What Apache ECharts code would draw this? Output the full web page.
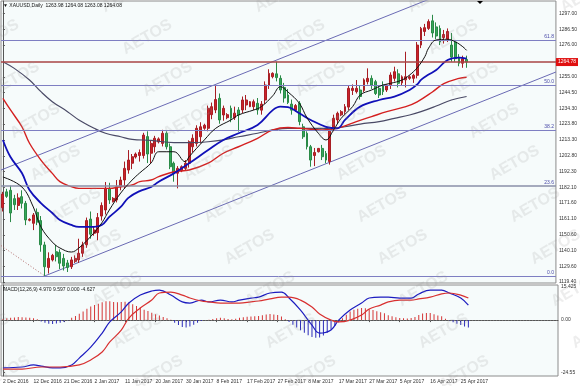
<!DOCTYPE html>
<html><head><meta charset="utf-8">
<script src="https://cdn.jsdelivr.net/npm/echarts@6/dist/echarts.min.js"></script>
<style>html,body{margin:0;padding:0;background:#fff}#c{width:580px;height:386px}</style>
</head><body><div id="c"></div><script>
// ---------- DATA ----------
const dates = ['2 Dec 2016','4 Dec 2016','5 Dec 2016','6 Dec 2016','7 Dec 2016','8 Dec 2016','9 Dec 2016','11 Dec 2016','12 Dec 2016','13 Dec 2016','14 Dec 2016','15 Dec 2016','16 Dec 2016','18 Dec 2016','19 Dec 2016','20 Dec 2016','21 Dec 2016','22 Dec 2016','23 Dec 2016','26 Dec 2016','27 Dec 2016','28 Dec 2016','29 Dec 2016','30 Dec 2016',
'2 Jan 2017','3 Jan 2017','4 Jan 2017','5 Jan 2017','6 Jan 2017','8 Jan 2017','9 Jan 2017','10 Jan 2017','11 Jan 2017','12 Jan 2017','13 Jan 2017','15 Jan 2017','16 Jan 2017','17 Jan 2017','18 Jan 2017','19 Jan 2017','20 Jan 2017','22 Jan 2017','23 Jan 2017','24 Jan 2017','25 Jan 2017','26 Jan 2017','27 Jan 2017','29 Jan 2017','30 Jan 2017','31 Jan 2017',
'1 Feb 2017','2 Feb 2017','3 Feb 2017','5 Feb 2017','6 Feb 2017','7 Feb 2017','8 Feb 2017','9 Feb 2017','10 Feb 2017','12 Feb 2017','13 Feb 2017','14 Feb 2017','15 Feb 2017','16 Feb 2017','17 Feb 2017','19 Feb 2017','20 Feb 2017','21 Feb 2017','22 Feb 2017','23 Feb 2017','24 Feb 2017','26 Feb 2017','27 Feb 2017','28 Feb 2017',
'1 Mar 2017','2 Mar 2017','3 Mar 2017','5 Mar 2017','6 Mar 2017','7 Mar 2017','8 Mar 2017','9 Mar 2017','10 Mar 2017','12 Mar 2017','13 Mar 2017','14 Mar 2017','15 Mar 2017','16 Mar 2017','17 Mar 2017','19 Mar 2017','20 Mar 2017','21 Mar 2017','22 Mar 2017','23 Mar 2017','24 Mar 2017','26 Mar 2017','27 Mar 2017','28 Mar 2017','29 Mar 2017','30 Mar 2017','31 Mar 2017',
'2 Apr 2017','3 Apr 2017','4 Apr 2017','5 Apr 2017','6 Apr 2017','7 Apr 2017','9 Apr 2017','10 Apr 2017','11 Apr 2017','12 Apr 2017','13 Apr 2017','16 Apr 2017','17 Apr 2017','18 Apr 2017','19 Apr 2017','20 Apr 2017','21 Apr 2017','23 Apr 2017','24 Apr 2017','25 Apr 2017','26 Apr 2017','27 Apr 2017'];

// [open, close, low, high]
const ohlc = [
[1168.5,1177.5,1166,1179],[1179,1176,1175,1181],[1180,1165,1159,1183],[1174.5,1170.5,1167,1177],[1170,1175,1167,1178],
[1175.8,1171.4,1168,1180],[1171.4,1160.4,1157,1173],[1160.2,1160.8,1159.5,1161.5],[1158.2,1163.7,1153.7,1165],[1165.4,1159,1157,1168],
[1160,1144,1139.4,1163],[1143.9,1129.5,1123.4,1146],[1129,1135,1125,1139],[1134,1137,1133,1138],[1139.4,1136.1,1133,1144],
[1139,1131.8,1128,1141],[1135,1130,1127,1138],[1132,1129,1126,1134],[1129.5,1134,1128,1136],[1133,1135,1132,1137],
[1134,1138.4,1132,1148],[1138.4,1143.9,1136,1146],[1144,1160,1142,1162],[1161,1151,1148,1166],[1151.6,1153.8,1150,1156],
[1152,1162,1147,1165],[1163,1170,1160,1172],[1167,1181.3,1164,1185.5],[1181.3,1173.6,1171,1185],[1172.5,1174.7,1172,1175.5],
[1173.6,1182.4,1172,1186.8],[1182.4,1186.8,1180,1189],[1186.8,1194.5,1181,1199],[1193.4,1200,1191,1206.6],[1197.9,1202.2,1194,1204],
[1202,1204,1201,1205],[1203,1205,1199,1207],[1203,1216.5,1201,1218],[1215.5,1204,1198,1219],[1204.5,1211,1198,1213],
[1208.8,1214.4,1205,1216],[1212,1214,1211,1215],[1211,1217.7,1209,1220],[1217.7,1208.8,1207,1219],[1208.8,1195.6,1194,1211],
[1197.9,1191.3,1185.7,1199],[1191.3,1194.5,1181.3,1196],[1193,1195.6,1192,1196.5],[1194.5,1197.9,1193,1200],[1197.9,1212.1,1195,1213],
[1208.8,1214.4,1205,1217],[1211,1221,1209,1223],[1215.4,1222,1211,1225],[1221,1223,1220,1224],[1221,1234.2,1219,1236],
[1230,1235.3,1227,1238],[1233.1,1240,1231,1249.6],[1240.8,1226.5,1224,1244],[1229.8,1234.2,1226,1236],[1228,1230,1227,1231],
[1234.2,1227.6,1225,1236],[1228,1231,1226.5,1235.3],[1233.1,1229.8,1218.8,1235],[1233.1,1239.7,1231,1242],[1236.4,1239.7,1233,1243],
[1235.3,1238.6,1235,1239],[1235.3,1238.6,1233,1240],[1237.5,1233.1,1230,1241],[1233,1237,1230,1239],[1239.7,1249.6,1237,1252],
[1249.6,1257.3,1247,1260],[1255.1,1257.3,1254,1258],[1257,1254.5,1252,1265],[1254,1246.3,1244,1256],[1248,1241,1238,1251],
[1243,1238,1237,1247],[1237,1233,1230,1240],[1233,1236,1232,1237],[1237.5,1225.4,1223,1239],[1222,1215.4,1214,1224],
[1217.7,1208.8,1207,1219],[1208.8,1200,1195.6,1210],[1203,1205,1196,1208],[1205.5,1207.7,1205,1208],[1207.7,1202.2,1200,1210],
[1204.4,1200,1197.9,1206],[1199,1220,1197,1221],[1221,1227.6,1219,1230],[1226.5,1230.9,1224,1232],[1229.8,1232,1229,1233],
[1232,1235.3,1230,1237],[1235,1247.4,1233,1249],[1246,1247.4,1243,1250],[1245.2,1247.4,1244,1252.9],[1246.3,1242,1240,1249],
[1246,1253,1245,1254],[1251.8,1254,1250,1260.6],[1254,1249.6,1247,1256],[1251.8,1244,1243,1253],[1247.4,1243,1241,1249],
[1249.6,1245.2,1243,1252],[1246.3,1249.6,1245,1250],[1249.6,1256.2,1247,1258],[1254,1258.4,1252,1261.7],[1257,1250.7,1248,1260],
[1251,1255,1249,1256],[1253,1255.1,1248,1271.6],[1254,1255,1253,1256],[1254,1256,1251,1257],[1256,1276,1254,1278],
[1276,1287,1274,1288],[1285,1287.5,1282,1290],[1287,1291.5,1286,1293],[1292,1284,1281,1296],[1288,1282,1280,1291],
[1287,1278,1276,1289],[1281,1283,1277,1286],[1280,1285,1278,1287],[1276,1268,1265,1284],[1278,1267,1265,1279],
[1268,1264,1262,1270],[1264,1267,1261,1269],[1266.5,1264.8,1261,1269]];

// moving averages: [bar index, price]
const maFast = [[0,1188.8],[5,1182.2],[8,1169],[10,1155.8],[13,1145.8],[15,1141.9],[18,1139.2],[20,1141.9],[23,1149.2],[26,1158.4],[28,1167],[31,1178.2],[34,1186.8],[36,1191.5],[39,1198.1],[41,1205.5],[45,1205.5],[48,1198.9],[49,1202.2],[53,1213.3],[56,1221],[60,1226.5],[62,1229.8],[66,1233.1],[68,1235.3],[71,1242.5],[73,1248.5],[75,1245],[78,1237.5],[80,1228],[83,1217.7],[85,1213.3],[87,1219.9],[89,1227.6],[92,1235.3],[94,1243],[97,1246.3],[100,1249.6],[102,1250.7],[105,1252.9],[107,1256.2],[109,1261],[111,1268.3],[112,1274],[114,1279.4],[117,1279.8],[119,1278.2],[121,1274.9],[122,1272.5]];
const maBlue = [[0,1213.3],[2,1202],[5,1191.4],[7,1180.2],[10,1171.6],[13,1165],[15,1160.4],[18,1157.1],[20,1155.8],[23,1155.8],[26,1157.1],[28,1162.4],[31,1169],[33,1175],[36,1179.5],[39,1182.2],[41,1185.7],[45,1191.2],[49,1197.9],[54,1206.6],[58,1213.3],[62,1217.7],[67,1223.2],[71,1233],[73,1235.3],[75,1235],[78,1230.9],[81,1226.5],[85,1222],[88,1221],[90,1226.5],[94,1235.3],[99,1239.7],[103,1241.9],[107,1246.3],[109,1250],[110,1253],[112,1256.5],[114,1259.5],[117,1266.1],[120,1267.7],[122,1267]];
const maRed = [[0,1240.8],[2,1233.1],[5,1222],[7,1211.1],[10,1200],[13,1191.2],[15,1185.7],[18,1182.4],[20,1181.3],[23,1181.3],[28,1181.3],[31,1182.4],[34,1183.5],[36,1185.7],[39,1186.8],[41,1189],[45,1192.3],[49,1193.4],[54,1197.9],[58,1204.5],[62,1208.8],[67,1214.4],[71,1219.9],[75,1221.5],[78,1221],[84,1219.9],[88,1221],[93,1225.4],[97,1228.7],[101,1232],[106,1235.3],[109,1238.5],[113,1245],[116,1250.5],[120,1254],[122,1254.7]];
const maGray = [[0,1265],[3,1260.6],[7,1252.9],[10,1245.2],[13,1238.6],[17,1232],[20,1226.5],[24,1221],[27,1217.7],[31,1215.4],[34,1213.7],[39,1213],[45,1211.5],[49,1211.5],[54,1212.1],[58,1213.3],[62,1215.4],[67,1217.7],[71,1219.9],[75,1221],[80,1221],[86,1221],[90,1222],[94,1223.8],[99,1225.4],[103,1227.6],[107,1229.8],[110,1232],[114,1235.7],[118,1239.7],[122,1242]];

// trend lines: [bar index, price] end points
const channelUpper = [[-0.5,1193.4],[112,1306.2]];
const channelLower = [[11,1123.4],[145.5,1258.2]];
const dottedLine = [[-0.5,1143.5],[11,1123.4]];

// fibonacci levels
const fibLabels = ['61.8','50.0','38.2','23.6','0.0'];
const fibPrices = [1279.3,1249.6,1219.9,1182.9,1123.4];
const lastPrice = 1264.78;

const priceTicks = [1297.00,1286.50,1276.00,1255.00,1244.50,1234.30,1223.80,1213.30,1202.80,1192.30,1182.10,1171.60,1161.10,1150.60,1140.10,1129.60,1119.40];

// MACD
const macdLine = [[0,-21],[5,-20.6],[8,-19.7],[10,-20.2],[13,-21],[15,-21],[18,-19.7],[20,-16.7],[23,-11.9],[26,-5.7],[28,-0.8],[31,3.6],[33,7.5],[36,11],[39,12.8],[41,13.2],[44,11],[47,8],[49,7.5],[52,8.8],[54,8],[57,8.8],[60,8],[62,8.8],[65,9.7],[67,10.1],[70,11.9],[73,12.3],[75,9.7],[78,4.4],[81,-2.2],[83,-5.7],[86,-4.3],[88,0],[91,4.4],[94,7.5],[96,9.7],[99,10.1],[101,10.1],[104,9.7],[107,9.7],[109,11.5],[112,13.2],[115,13.2],[117,11.9],[120,9.7],[122,6.6]];
const signalLine = [[0,-21.5],[5,-21.5],[10,-20.6],[15,-20.6],[20,-19.7],[23,-17.5],[26,-14],[28,-9.6],[31,-4.4],[33,0.9],[36,5.3],[39,8.8],[41,11.9],[44,12.3],[47,11],[49,9.7],[52,8.4],[54,8],[57,7.5],[60,7.5],[62,7.5],[65,8],[67,8.4],[70,9.3],[73,10.1],[75,10.1],[78,8.8],[81,5.8],[83,2.7],[86,0],[88,-0.8],[91,0],[94,2.2],[96,4.9],[99,6.6],[101,8],[104,8.8],[107,8.8],[109,9.3],[112,10.1],[115,11.5],[117,11.9],[120,11],[122,9.7]];
const macdHist = [0.5,0.8,1.0,1.2,1.4,1.3,1.2,1.0,0.8,0.4,
-0.6,-1.2,-1.6,-1.7,-1.5,-1.2,-0.8,-0.3,
1.0,1.8,2.8,3.8,5.0,6.0,6.6,7.2,7.8,8.3,8.3,8.0,7.9,8.0,8.1,7.8,7.0,6.2,5.5,4.6,4.0,3.2,2.6,2.0,1.4,0.8,0.2,
-1.2,-2.2,-3.0,-3.2,-2.8,-2.0,-1.2,-0.4,
0.0,0.2,0.5,0.8,1.0,0.8,0.5,0.4,0.6,1.0,1.3,1.5,1.6,1.7,1.8,2.1,2.5,2.7,2.5,2.2,1.6,0.4,-0.8,-2.0,-3.2,-4.4,-5.6,-6.6,-7.4,-7.8,-7.6,-6.8,-5.6,-4.2,-2.6,-0.9,0.8,2.4,3.8,4.5,5.0,5.3,5.2,4.8,4.4,3.9,3.5,3.0,2.1,1.7,1.3,0.9,0.8,0.7,0.9,1.4,2.2,2.9,3.1,3.1,2.6,2.0,1.7,0.6,-0.2,-0.9,-1.6,-2.2,-2.8,-3.2];
const macdMax = 15.425, macdMin = -24.55;

// ---------- CHART ----------
const FONT = 'Liberation Sans, Arial, DejaVu Sans, sans-serif';
const N = 146;
const cats = dates.slice();
for (let k = dates.length; k < N; k++) cats.push('_' + k);
const labelIdx = (i) => i % 8 === 0 && i < dates.length;

const chart = echarts.init(document.getElementById('c'), null, {renderer: 'canvas'});

const wm = [];
for (let m = -3; m <= 3; m++) {
  for (let k = -2; k <= 10; k++) {
    const x = 300 + 153 * m + 20.5 * k, y = 37 + 42 * k;
    if (x > -40 && x < 620 && y > -20 && y < 400) {
      wm.push({type: 'text', x: x, y: y, rotation: Math.PI / 6, z: 100, silent: true,
        style: {text: 'AETOS', font: 'bold 16px ' + FONT, fill: 'rgba(150,150,150,0.17)', align: 'center', verticalAlign: 'middle'}});
    }
  }
}

const fibMark = fibPrices.map((p, i) => ({
  yAxis: p,
  lineStyle: i === 3 ? {color: '#8a8fa8', width: 1.6, type: 'solid'} : {color: '#7e7ec2', width: 1, type: 'solid'},
  label: {show: true, formatter: fibLabels[i], position: 'insideEndTop', distance: [2, 1], color: '#4a4aa8', fontSize: 5, fontFamily: FONT}
}));
fibMark.push({
  yAxis: lastPrice,
  lineStyle: {color: '#a84444', width: 1.5, type: 'solid'},
  label: {show: true, formatter: lastPrice.toFixed(2), position: 'end', distance: 0, color: '#fff', backgroundColor: '#e01010', padding: [2, 2, 1, 2], fontSize: 5, fontFamily: FONT}
});

const option = {
  animation: false,
  backgroundColor: '#ffffff',
  textStyle: {fontFamily: FONT},
  grid: [
    {left: 1, top: 1, width: 557, height: 282, show: true, borderColor: '#8c8c8c', borderWidth: 1, backgroundColor: '#f6fbfb'},
    {left: 1, top: 285, width: 557, height: 91, show: true, borderColor: '#8c8c8c', borderWidth: 1, backgroundColor: '#f6fbfb'}
  ],
  xAxis: [
    {type: 'category', gridIndex: 0, data: cats, boundaryGap: true, axisLine: {show: false}, axisTick: {show: false}, axisLabel: {show: false}, splitLine: {show: false}},
    {type: 'value', gridIndex: 0, min: -0.5, max: N - 0.5, show: false},
    {type: 'category', gridIndex: 1, data: cats, boundaryGap: true,
      axisLine: {show: true, lineStyle: {color: '#555'}},
      axisTick: {show: true, alignWithLabel: true, interval: labelIdx, length: 2, lineStyle: {color: '#555'}},
      axisLabel: {show: true, interval: labelIdx, fontSize: 5, color: '#333', align: 'left', margin: 3, fontFamily: FONT},
      splitLine: {show: false}},
    {type: 'value', gridIndex: 1, min: -0.5, max: N - 0.5, show: false}
  ],
  yAxis: [
    {type: 'value', gridIndex: 0, position: 'right', min: 1118.74, max: 1305.13, scale: true,
      splitLine: {show: false},
      axisLine: {show: true, lineStyle: {color: '#555'}},
      axisTick: {show: true, length: 2, customValues: priceTicks, lineStyle: {color: '#555'}},
      axisLabel: {show: true, customValues: priceTicks, formatter: v => v.toFixed(2), fontSize: 5, color: '#333', margin: 3, fontFamily: FONT}},
    {type: 'value', gridIndex: 1, position: 'right', min: macdMin, max: macdMax, scale: true,
      splitLine: {show: false},
      axisLine: {show: true, lineStyle: {color: '#555'}},
      axisTick: {show: true, length: 2, customValues: [14.5, 0, -23.1], lineStyle: {color: '#555'}},
      axisLabel: {show: true, customValues: [14.5, 0, -23.1],
        formatter: v => v > 10 ? macdMax.toFixed(3) : (v < -10 ? macdMin.toFixed(2) : '0.00'),
        fontSize: 5, color: '#333', margin: 3, fontFamily: FONT}}
  ],
  graphic: [
    {type: 'text', left: 3, top: 3, z: 110, style: {text: '▼ XAUUSD,Daily  1263.98 1264.08 1263.08 1264.08', font: '5px ' + FONT, fill: '#111'}},
    {type: 'text', left: 3, top: 287, z: 110, style: {text: 'MACD(12,26,9) 4.970 9.597 0.000 -4.627', font: '5px ' + FONT, fill: '#111'}},
    {type: 'polygon', z: 110, shape: {points: [[477, 1], [483, 1], [480, 4]]}, style: {fill: '#000'}}
  ].concat(wm),
  series: [
    {type: 'candlestick', name: 'XAUUSD', xAxisIndex: 0, yAxisIndex: 0, data: ohlc, barWidth: 2.4,
      itemStyle: {color: '#cc2229', color0: '#35a85a', borderColor: '#a81e24', borderColor0: '#2a8a47', borderWidth: 1},
      markLine: {silent: true, symbol: 'none', animation: false, data: fibMark}, z: 3},
    {type: 'line', name: 'MA gray', xAxisIndex: 1, yAxisIndex: 0, data: maGray, smooth: 0.4, showSymbol: false, lineStyle: {color: '#4a4a66', width: 1.2}, z: 4},
    {type: 'line', name: 'MA red', xAxisIndex: 1, yAxisIndex: 0, data: maRed, smooth: 0.4, showSymbol: false, lineStyle: {color: '#d42020', width: 1.4}, z: 4},
    {type: 'line', name: 'MA blue', xAxisIndex: 1, yAxisIndex: 0, data: maBlue, smooth: 0.4, showSymbol: false, lineStyle: {color: '#1010b8', width: 1.8}, z: 4},
    {type: 'line', name: 'MA black', xAxisIndex: 1, yAxisIndex: 0, data: maFast, smooth: 0.4, showSymbol: false, lineStyle: {color: '#111', width: 1}, z: 5},
    {type: 'line', name: 'upper channel', xAxisIndex: 1, yAxisIndex: 0, data: channelUpper, showSymbol: false, lineStyle: {color: '#6a6ab4', width: 1}, z: 2},
    {type: 'line', name: 'lower channel', xAxisIndex: 1, yAxisIndex: 0, data: channelLower, showSymbol: false, lineStyle: {color: '#6a6ab4', width: 1}, z: 2},
    {type: 'line', name: 'dotted', xAxisIndex: 1, yAxisIndex: 0, data: dottedLine, showSymbol: false, lineStyle: {color: '#b06a6a', width: 1, type: [1, 2]}, z: 2},
    {type: 'bar', name: 'MACD hist', xAxisIndex: 2, yAxisIndex: 1, data: macdHist, barWidth: 1,
      itemStyle: {color: p => p.value >= 0 ? '#d43636' : '#2a2ab8'},
      markLine: {silent: true, symbol: 'none', animation: false, label: {show: false}, data: [{yAxis: 0}], lineStyle: {color: '#777', type: [1, 2], width: 1}}},
    {type: 'line', name: 'MACD', xAxisIndex: 3, yAxisIndex: 1, data: macdLine, smooth: 0.4, showSymbol: false, lineStyle: {color: '#1c1cc0', width: 1.2}},
    {type: 'line', name: 'Signal', xAxisIndex: 3, yAxisIndex: 1, data: signalLine, smooth: 0.4, showSymbol: false, lineStyle: {color: '#d83030', width: 1.2}}
  ]
};
chart.setOption(option);
</script></body></html>
